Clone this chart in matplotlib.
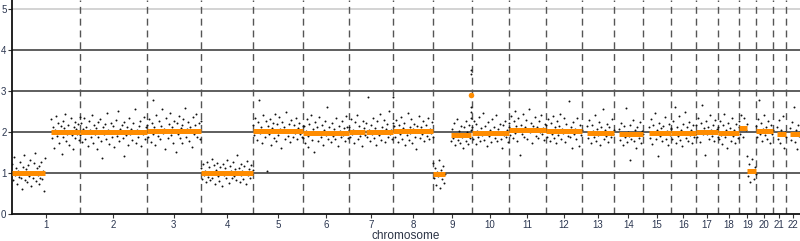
import numpy as np
import matplotlib
matplotlib.use("Agg")
import matplotlib.pyplot as plt

plt.rcParams['font.family'] = ['Liberation Sans', 'DejaVu Sans']

# ---------------- data ----------------
chrom_names = [str(i) for i in range(1, 23)]
chrom_len_mb = [249.3, 243.2, 198.0, 191.2, 180.9, 171.1, 159.1, 146.4, 141.2, 135.5, 135.0,
                133.9, 115.2, 107.3, 102.5, 90.4, 81.2, 78.1, 59.1, 63.0, 48.1, 51.3]

# segments: (chromosome index, start Mb, end Mb, copy number)
seg_chrom = [0, 0, 1, 2, 3, 4, 5, 6, 6, 7, 8, 8, 8, 9, 10, 11, 12, 13, 14, 15, 16, 17, 18, 18, 19, 20, 21]
seg_start = [0.8, 144, 0, 0, 0, 0, 0, 0, 62, 0, 0, 66, 140.2, 0, 0, 0, 19, 19, 20, 0, 0, 0, 0, 29, 0, 14, 16]
seg_end = [121, 249, 243, 198, 191, 181, 171, 58, 159, 146, 44, 140, 140.2, 135, 135, 134, 115, 107, 102, 90, 81, 78, 26, 59, 63, 48, 51]
seg_value = [1.0, 2.0, 2.0, 2.03, 1.0, 2.03, 1.98, 2.0, 2.0, 2.02, 0.98, 1.92, 2.9, 1.97, 2.05, 2.02,
             1.98, 1.95, 1.97, 1.97, 2.0, 1.97, 2.1, 1.05, 2.02, 1.95, 1.95]

# probe log-ratio derived copy numbers per segment
probes = [
    [1.21,0.84,1.38,0.95,1.12,0.72,1.05,0.91,1.26,0.88,0.62,1.15,0.97,1.44,0.83,1.09,0.78,1.19,0.93,1.31,0.69,1.02,0.87,1.24,1.48,0.81,1.11,0.96,0.74,1.17,0.89,1.28,0.85,1.06,0.55,1.36],
    [2.31,1.85,2.12,1.62,2.05,2.38,1.91,2.22,1.74,1.98,2.15,1.47,2.27,1.88,2.09,2.44,1.79,1.96,2.18,1.69,2.03,2.33,1.93,1.58,2.11,2.25,1.86,2.07,1.95,2.19,1.81,2.36],
    [1.92,2.21,1.76,2.08,2.35,1.84,2.13,1.97,1.65,2.27,2.04,1.89,2.41,1.73,2.16,1.95,2.09,1.58,2.24,1.87,2.02,2.31,1.79,1.36,2.11,1.94,2.19,1.82,2.47,2.06,1.71,1.99,2.23,1.88,2.14,1.63,2.03,2.29,1.91,2.52,1.78,2.07,1.97,2.18,1.85,1.42,2.25,2.01,1.93,2.12,1.69,2.34,1.96,2.08,1.81,2.21,1.98,2.56,1.74,2.05,1.89,2.15,2.28,1.67,2.02,1.94,2.37,1.83,2.11,1.99],
    [2.17,1.88,2.32,2.05,1.76,2.21,2.79,1.95,2.12,1.68,2.41,2.03,1.91,2.26,1.82,2.14,2.55,1.97,2.08,1.59,2.35,2.01,1.86,2.19,2.47,1.93,2.11,1.74,2.28,2.04,1.52,2.23,1.96,2.38,1.85,2.09,2.16,1.72,2.31,1.99,2.58,1.89,2.07,2.24,1.79,2.13,2.02,1.64,2.36,1.94,2.18,2.45,1.87,2.06,2.22,1.83,2.27],
    [1.12,0.86,1.21,0.94,1.05,0.78,1.28,0.91,1.15,0.83,1.02,1.33,0.88,0.97,1.19,0.74,1.08,1.25,0.92,0.81,1.14,1.01,0.69,1.23,0.95,1.11,0.87,1.31,0.99,0.76,1.17,1.04,0.89,1.26,0.93,1.09,0.82,1.45,0.98,1.13,0.79,1.22,0.96,1.06,0.85,1.18,1.03,0.72,1.29,0.94,1.10,0.88,1.20,0.97,1.07],
    [2.18,1.92,2.35,2.06,1.81,2.24,2.78,1.97,2.12,1.74,2.41,2.03,1.88,2.27,1.05,2.15,1.95,2.31,1.69,2.09,2.22,1.86,2.44,2.01,1.78,2.19,1.93,2.36,2.07,1.62,2.25,1.99,2.13,1.84,2.48,2.04,1.91,2.20,1.76,2.29,2.02,1.89,2.16,1.97,2.33,1.82,2.10,2.23,1.94,2.05,1.87,2.14],
    [1.85,2.14,1.72,2.03,2.31,1.91,1.64,2.19,1.98,2.42,1.81,2.08,1.52,2.25,1.94,2.11,1.77,2.36,2.01,1.88,2.17,1.69,2.05,2.28,1.93,2.60,1.84,2.12,1.99,1.75,2.22,1.90,2.07,1.82,2.33,1.96,1.67,2.15,2.02,1.87,2.26,1.92,2.09,1.79,2.38,1.95,2.13,1.86,2.04],
    [2.12,1.87,2.31,1.95,2.06,1.73,2.24,1.98,2.41,1.84,2.15,1.91,2.03,1.66,2.27,2.09,1.93],
    [2.21,1.89,2.85,2.04,1.78,2.16,1.96,2.35,1.85,2.10,1.69,2.27,2.01,1.92,2.44,1.81,2.13,1.97,2.30,1.76,2.08,2.19,1.88,2.52,1.94,2.06,1.83,2.23],
    [2.85,2.14,1.88,2.29,2.01,1.76,2.18,1.95,2.37,1.84,2.09,2.23,1.69,2.04,1.92,2.46,1.81,2.12,1.98,2.31,1.73,2.07,2.20,1.89,1.58,2.15,2.03,2.39,1.86,2.11,1.94,2.26,1.79,2.06,2.17,1.91,2.33,1.83,2.08,1.97,2.24,1.87],
    [1.25,0.88,1.12,0.71,1.02,0.93,1.31,0.64,1.08,0.85,1.18,0.76,0.97],
    [1.78,2.08,1.85,2.21,1.69,1.96,2.32,1.81,2.03,1.74,2.15,1.88,1.62,2.11,1.93,2.26,1.79,1.99,1.71,2.18,1.86,2.04],
    [3.52,3.41,2.62,2.48,2.35],
    [2.13,1.84,2.28,1.95,1.71,2.19,2.02,1.88,2.36,1.77,2.09,1.92,2.47,1.81,2.15,1.98,1.66,2.24,1.90,2.05,1.75,2.31,1.94,2.11,1.86,2.42,1.79,2.07,1.97,2.20,1.83,1.61,2.16,1.93,2.27,1.87,2.04,1.76,2.12],
    [2.21,1.92,2.38,2.07,1.85,2.26,2.51,1.97,2.14,1.79,2.33,2.03,1.44,2.18,1.95,2.45,1.88,2.11,2.29,1.83,2.06,2.57,1.99,2.22,1.74,2.15,2.04,2.36,1.91,2.12,1.86,2.27,2.01,2.41,1.94,2.09,1.81,2.19,2.08],
    [2.16,1.89,2.31,2.04,1.78,2.22,1.96,2.39,1.85,2.11,2.01,1.72,2.27,1.93,2.14,2.45,1.82,2.07,1.98,2.33,1.76,2.19,2.03,1.90,2.76,1.87,2.12,1.61,2.24,1.95,2.08,1.84,2.35,1.99,1.67,2.17,1.92,2.05],
    [2.14,1.86,2.29,1.95,1.72,2.18,2.02,1.89,2.41,1.79,2.08,1.93,2.25,1.68,2.11,1.97,2.55,1.84,2.06,1.91,2.20,1.76,2.13,1.99,1.87,2.32,1.94,2.04],
    [2.08,1.81,2.22,1.93,1.69,2.14,1.87,2.58,1.75,2.01,1.90,1.32,2.17,1.84,1.97,2.29,1.78,2.05,1.62,2.11,1.92,1.86,2.24,1.73,2.03,1.95],
    [2.12,1.85,2.31,1.94,1.71,2.18,1.99,2.47,1.82,2.06,1.42,2.23,1.91,2.09,1.77,2.15,1.96,2.36,1.84,2.03,1.68,2.20,1.93,2.07],
    [2.09,1.83,2.27,1.95,2.62,1.74,2.13,1.90,2.38,1.81,2.04,1.67,2.19,1.98,2.50,1.86,2.11,1.78,2.24,1.93,2.06,1.72,2.16,1.89,2.01,1.96],
    [2.18,1.87,2.34,2.02,1.75,2.21,2.65,1.94,2.09,1.45,2.27,1.96,2.13,1.82,2.41,2.05,1.91,2.16,1.78,2.29,1.99,2.08,1.88],
    [2.11,1.84,2.28,1.93,1.70,2.17,2.45,1.87,2.04,1.62,2.22,1.95,2.09,1.79,2.33,1.91,2.06,1.74,2.19,1.98,1.86,2.13],
    [2.28,1.95,2.41,2.12,1.88,2.34,2.05,2.19],
    [1.42,0.92,1.21,0.78,1.08,1.33,0.86,1.15,0.97],
    [2.15,1.88,2.31,2.78,1.96,2.22,1.79,2.08,2.41,1.92,2.13,1.84,2.27,2.01,1.73,2.18,1.95,2.06],
    [2.12,1.84,2.29,1.73,2.05,1.92,2.38,1.62,2.01,1.88],
    [2.09,1.81,2.24,1.93,2.62,1.76,2.05,1.58,2.17,1.90,1.99],
]

y_ticks = [0, 1, 2, 3, 4, 5]
x_label = "chromosome"

# ---------------- figure ----------------
fig = plt.figure(figsize=(8.0, 2.41), dpi=100)
ax = fig.add_axes([12 / 800, 1 - 214 / 241, 1 - 12 / 800, 214 / 241])

offsets = np.concatenate([[0], np.cumsum(chrom_len_mb)])
total = offsets[-1]
ax.set_xlim(0, total)
ax.set_ylim(0, 5.22)

# horizontal grid
for yv in y_ticks[1:]:
    col = '#c8c8c8' if yv == 5 else '#333333'
    ax.axhline(yv, color=col, lw=1.1, zorder=1)

# chromosome boundaries
for b in offsets[1:-1]:
    ax.axvline(b, color='#555555', lw=1.0, ls=(0, (5, 3.5)), zorder=1)

# probes
for ci, s, e, vals in zip(seg_chrom, seg_start, seg_end, probes):
    n = len(vals)
    if e - s < 1:
        xs = np.full(n, offsets[ci] + s)
    else:
        xs = offsets[ci] + np.linspace(s, e, n)
    ax.scatter(xs, vals, s=2.0, c='#111111', linewidths=0, zorder=3)

# segments
orange = '#ff8c00'
for ci, s, e, v in zip(seg_chrom, seg_start, seg_end, seg_value):
    if e - s < 1:
        ax.plot([offsets[ci] + s], [v], marker='o', ms=4.0, color=orange, mec=orange, mew=0, zorder=4)
    else:
        ax.plot([offsets[ci] + s, offsets[ci] + e], [v, v], color=orange, lw=3.6,
                solid_capstyle='butt', zorder=4)

centers = (offsets[:-1] + offsets[1:]) / 2
ax.set_xticks(centers)
ax.set_xticklabels(chrom_names)
ax.set_yticks(y_ticks)
ax.set_yticklabels([str(t) for t in y_ticks])
lab_col = '#2b3650'
ax.tick_params(axis='x', length=3, width=0.8, pad=1, labelsize=7, labelcolor=lab_col, color='#333333')
ax.tick_params(axis='y', length=3, width=0.8, pad=1, labelsize=7, labelcolor=lab_col, color='#333333')
ax.set_xlabel(x_label, fontsize=8.5, color='#2b3345', labelpad=0)

for sp in ['top', 'right']:
    ax.spines[sp].set_visible(False)
ax.spines['left'].set_linewidth(1.3)
ax.spines['bottom'].set_linewidth(1.3)
ax.spines['left'].set_color('#111111')
ax.spines['bottom'].set_color('#111111')

fig.savefig('out.png', dpi=100)
